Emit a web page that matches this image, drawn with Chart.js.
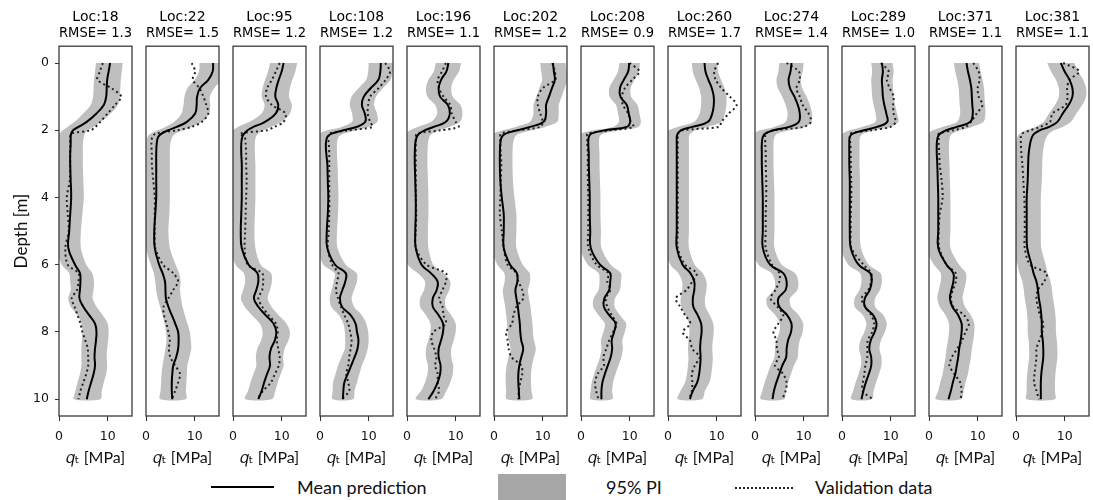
<!DOCTYPE html>
<html>
<head>
<meta charset="utf-8">
<script src="https://cdn.jsdelivr.net/npm/chart.js@4.4.1/dist/chart.umd.min.js"></script>
<style>
  html, body { margin: 0; padding: 0; background: #fff; overflow: hidden; }
  #wrap { position: relative; width: 1093px; height: 500px; }
  #wrap canvas { position: absolute; top: 0; }
  .lg { position: absolute; font-family: Lato, 'Open Sans', sans-serif; font-size: 18px; color: #111; line-height: 20px; }
</style>
</head>
<body>
<div id="wrap">
  <div style="position:absolute;left:211px;top:486px;width:63px;height:2px;background:#000"></div>
  <div class="lg" style="left:297px;top:477px">Mean prediction</div>
  <div style="position:absolute;left:498px;top:474px;width:68px;height:26px;background:#a6a6a6"></div>
  <div class="lg" style="left:606px;top:477px">95% PI</div>
  <div style="position:absolute;left:735px;top:487px;width:58px;height:0;border-top:2px dotted #222"></div>
  <div class="lg" style="left:815px;top:477px">Validation data</div>
</div>
<script>
// depth grid (m), shared by every profile
var depths = [0,0.25,0.5,0.75,1,1.25,1.5,1.75,1.9,2,2.1,2.2,2.4,2.7,3,3.5,4,4.5,5,5.5,6,
              6.25,6.5,6.75,7,7.25,7.5,7.75,8,8.25,8.5,8.75,9,9.25,9.5,9.75,10];

var locs = ['Loc:18','Loc:22','Loc:95','Loc:108','Loc:196','Loc:202','Loc:208','Loc:260','Loc:274','Loc:289','Loc:371','Loc:381'];
var rmse = ['RMSE= 1.3','RMSE= 1.5','RMSE= 1.2','RMSE= 1.2','RMSE= 1.1','RMSE= 1.2','RMSE= 0.9','RMSE= 1.7','RMSE= 1.4','RMSE= 1.0','RMSE= 1.1','RMSE= 1.1'];

// qt [MPa]: mean prediction, 95% PI bounds, validation data
var mean18 = [10.5,10.2,9.9,9.8,9.7,9.2,7.7,5.7,4.0,2.9,2.5,2.4,2.4,2.3,2.3,2.4,2.5,2.3,2.1,1.9,3.3,4.3,4.4,4.3,4.2,5.0,6.2,7.4,7.7,7.6,7.4,7.3,7.4,7.1,6.6,6.1,5.7];
var lo18 = [7.6,7.4,7.2,7.1,7.0,6.5,5.0,3.2,1.8,0.8,0.1,-0.3,-0.3,-0.3,-0.3,-0.3,-0.3,-0.3,-0.4,-0.5,0.6,2.1,2.3,2.4,1.9,2.4,3.8,4.6,4.8,4.7,4.6,4.6,4.6,4.3,3.8,3.4,3.1];
var hi18 = [13.1,12.9,12.7,12.6,12.5,12.1,10.6,8.6,7.1,5.9,5.3,5.1,4.9,4.9,4.9,5.0,5.1,4.8,4.5,4.5,5.6,6.8,7.2,7.1,6.9,7.7,9.0,10.0,10.2,10.1,9.9,9.8,9.9,9.7,9.2,8.8,8.5];
var val18 = [9.0,8.4,7.9,10.8,12.8,11.5,10.0,8.5,7.5,6.5,2.5,2.3,2.3,2.3,2.3,2.2,1.6,1.8,2.0,1.3,1.8,4.0,4.0,3.7,2.6,3.2,3.8,4.4,4.8,5.4,5.9,6.0,6.0,5.6,5.0,4.4,4.0];

var mean22 = [13.8,13.7,12.8,11.1,10.5,10.4,10.1,8.4,6.3,4.6,3.2,2.5,2.2,2.1,2.1,2.1,2.1,1.9,1.7,1.8,2.7,3.4,3.9,4.0,4.1,4.6,5.3,6.0,6.6,6.7,6.6,6.2,5.6,5.4,5.3,5.3,5.4];
var lo22 = [11.0,10.9,10.0,8.5,7.9,7.7,7.3,5.8,4.0,2.4,1.0,0.3,0.1,0.1,0.1,0.1,0.1,0.0,-0.1,0.0,1.0,1.6,1.9,2.1,2.4,2.9,3.4,3.8,4.1,4.2,4.0,3.7,3.4,3.2,3.1,3.0,2.9];
var hi22 = [16.5,16.4,15.5,14.0,13.1,13.2,13.0,11.5,9.4,7.6,6.1,5.4,5.0,4.9,4.9,4.9,4.9,4.8,4.6,4.9,6.1,6.8,7.1,7.0,7.2,7.5,8.0,8.5,9.0,9.2,9.3,8.9,8.5,8.4,8.3,8.2,8.2];
var val22 = [9.4,10.1,9.6,11.0,11.8,12.4,12.8,11.5,9.4,6.5,2.0,1.3,1.1,1.2,1.2,1.5,1.8,1.8,1.8,1.9,3.5,5.6,6.6,5.6,4.6,3.6,3.7,4.2,4.6,4.9,4.7,5.0,6.0,7.0,6.6,6.0,5.3];

var mean95 = [10.4,10.0,9.4,8.9,8.7,9.3,8.8,6.6,4.2,3.0,2.3,1.9,1.7,1.7,1.8,1.8,1.8,1.7,1.6,1.8,3.2,5.0,5.2,4.8,4.3,5.2,6.7,8.3,8.9,8.6,7.8,7.5,7.6,7.0,6.4,5.9,5.2];
var lo95 = [7.6,7.2,6.6,6.1,5.9,6.5,5.9,3.4,1.0,0.0,-0.2,-0.3,-0.3,-0.3,-0.2,-0.2,-0.2,-0.3,-0.4,-0.3,0.5,2.2,2.5,2.1,1.6,2.4,3.9,5.5,6.1,5.8,5.0,4.7,4.8,4.2,3.6,3.1,2.5];
var hi95 = [13.2,12.8,12.2,11.7,11.5,12.1,11.7,10.0,7.8,6.2,5.2,4.7,4.5,4.5,4.6,4.6,4.6,4.5,4.4,4.6,5.7,7.8,8.0,7.6,7.1,7.9,9.4,11.0,11.7,11.4,10.6,10.3,10.4,9.8,9.2,8.7,8.0];
var val95 = [9.6,8.8,8.0,7.0,6.8,8.0,10.8,10.4,8.5,7.0,1.4,2.4,2.6,2.7,2.7,2.8,2.7,2.6,2.5,2.4,3.0,6.0,6.2,6.0,5.2,6.0,7.3,8.8,9.2,9.0,9.3,9.6,9.4,8.6,7.8,6.2,5.0];

var mean108 = [12.5,12.4,12.0,10.4,9.0,8.6,9.2,9.3,7.5,4.8,2.4,1.5,1.2,1.3,1.5,1.6,1.7,1.6,1.4,1.5,3.1,5.3,5.2,4.6,4.1,4.5,6.3,7.3,7.6,7.9,7.7,7.1,6.4,5.7,5.0,4.8,4.7];
var lo108 = [10.0,9.9,9.5,7.9,6.5,6.1,6.6,6.6,4.5,1.5,-0.2,-0.6,-0.8,-0.7,-0.5,-0.4,-0.3,-0.4,-0.6,-0.5,0.7,3.0,2.8,2.4,2.0,2.3,3.9,4.8,5.1,5.2,5.1,4.4,3.7,3.2,2.7,2.6,2.6];
var hi108 = [15.0,14.9,14.5,12.9,11.5,11.1,11.7,11.8,10.0,7.5,5.0,3.8,3.5,3.5,3.6,3.7,3.8,3.7,3.5,3.6,5.3,7.5,7.6,7.0,6.5,7.0,8.6,9.5,9.9,10.0,9.8,9.3,8.6,8.1,7.6,7.1,6.8];
var val108 = [13.4,14.4,13.5,12.0,10.3,9.9,9.8,10.3,10.8,6.0,1.8,1.7,1.8,1.9,1.9,1.9,1.9,1.9,1.8,1.6,2.5,3.8,3.5,3.3,3.7,4.3,5.0,5.8,6.2,6.5,6.3,6.0,5.8,5.4,5.8,6.0,4.5];

var mean196 = [8.5,8.1,7.0,6.5,6.8,8.4,8.8,8.0,5.5,3.7,2.5,2.0,1.7,1.6,1.6,1.7,1.8,1.8,1.7,1.8,3.0,4.9,6.3,6.1,5.3,5.3,6.5,7.4,7.4,7.0,6.5,6.5,6.9,6.8,6.3,5.5,4.4];
var lo196 = [5.9,5.5,4.4,3.9,4.2,5.8,6.2,5.0,2.2,0.6,-0.3,-0.7,-0.9,-1,-1,-0.9,-0.8,-0.8,-0.9,-0.8,0.2,2.2,3.7,3.5,2.7,2.7,3.9,4.8,4.8,4.4,3.9,3.9,4.3,4.2,3.7,2.9,1.8];
var hi196 = [11.1,10.7,9.6,9.1,9.4,11.0,11.4,10.9,8.7,6.6,5.2,4.6,4.3,4.2,4.2,4.3,4.4,4.4,4.3,4.4,5.4,7.5,8.9,8.7,7.9,7.9,9.1,10.0,10.0,9.6,9.1,9.1,9.5,9.4,8.9,8.1,7.0];
var val196 = [8.0,7.2,6.3,6.6,7.5,8.9,9.2,10.0,10.6,7.0,2.0,1.8,1.8,1.8,1.8,1.8,1.8,1.9,1.8,1.8,4.0,8.0,8.0,7.3,6.6,7.3,7.5,8.0,5.4,5.0,5.6,6.0,5.8,6.3,6.3,6.6,5.8];

var mean202 = [12.1,12.3,12.5,11.9,11.3,10.7,10.7,10.2,7.4,4.8,2.4,1.6,1.3,1.2,1.2,1.3,1.6,2.0,2.0,2.0,3.3,4.7,4.8,4.4,4.6,4.9,5.1,5.3,5.4,5.6,6.0,5.6,5.2,5.0,5.0,5.1,5.2];
var lo202 = [9.5,9.7,9.9,9.3,8.7,8.1,8.1,7.4,4.5,1.8,-0.1,-0.9,-1.2,-1.3,-1.3,-1.2,-0.9,-0.5,-0.5,-0.5,0.7,2.1,2.2,1.8,2.0,2.3,2.5,2.7,2.8,3.0,3.4,3.0,2.6,2.4,2.4,2.5,2.6];
var hi202 = [14.7,14.9,15.1,14.5,13.9,13.3,13.3,13.0,10.5,7.8,5.2,4.3,3.9,3.8,3.8,3.9,4.2,4.6,4.6,4.6,5.9,7.3,7.4,7.0,7.2,7.5,7.7,7.9,8.0,8.2,8.6,8.2,7.8,7.6,7.6,7.7,7.8];
var val202 = [12.0,12.5,12.6,10.0,9.0,9.0,9.5,10.0,9.5,5.0,1.4,1.3,1.3,1.4,1.5,1.4,1.3,1.2,1.6,2.0,2.8,4.6,5.0,5.8,6.0,4.6,4.0,3.7,2.5,2.8,3.0,3.6,5.6,5.8,5.4,5.1,5.0];

var mean208 = [9.9,9.7,8.8,8.0,8.1,9.4,9.8,10.1,9.4,5.0,2.1,1.6,1.5,1.6,1.6,1.7,1.8,1.8,1.9,2.0,3.9,6.0,6.0,5.8,4.8,4.7,5.8,7.1,6.8,6.3,6.4,6.1,5.5,4.9,4.4,4.2,4.2];
var lo208 = [7.9,7.6,6.7,5.8,5.9,7.2,7.6,7.8,6.6,2.4,0.0,-0.6,-0.7,-0.6,-0.6,-0.5,-0.4,-0.4,-0.3,-0.2,1.4,3.6,3.8,3.6,2.6,2.5,3.6,4.9,4.6,4.1,4.2,3.9,3.3,2.7,2.2,2.0,2.0];
var hi208 = [12.1,11.9,11.0,10.2,10.3,11.6,12.0,12.3,11.8,8.0,4.6,3.8,3.7,3.8,3.8,3.9,4.0,4.0,4.1,4.2,6.1,8.2,8.2,8.0,7.0,6.9,8.0,9.3,9.0,8.5,8.6,8.3,7.7,7.1,6.6,6.4,6.4];
var val208 = [10.0,12.0,10.5,9.0,8.4,8.6,9.7,10.2,10.8,6.0,1.3,1.3,1.3,1.4,1.4,1.4,1.5,1.5,1.5,1.5,3.2,5.6,5.4,6.0,5.1,5.4,6.3,7.3,6.6,5.8,5.2,4.6,4.7,3.4,2.9,3.1,3.6];

var mean260 = [7.5,7.7,8.3,9.0,9.4,9.4,9.1,8.2,5.0,2.7,2.0,1.8,1.8,1.8,1.8,1.8,1.8,1.8,1.8,1.8,3.0,4.6,5.4,5.4,5.1,5.2,6.1,6.8,6.9,6.7,6.6,6.7,6.6,6.4,6.0,5.1,4.5];
var lo260 = [4.9,5.1,5.7,6.4,6.8,6.8,6.5,5.4,2.0,0.1,-0.5,-0.7,-0.7,-0.7,-0.7,-0.7,-0.7,-0.7,-0.7,-0.7,0.5,2.1,2.9,2.9,2.6,2.7,3.6,4.3,4.4,4.2,4.1,4.2,4.1,3.9,3.5,2.6,2.0];
var hi260 = [10.1,10.3,10.9,11.6,12.0,12.0,11.7,11.0,8.2,5.6,4.6,4.3,4.3,4.3,4.3,4.3,4.3,4.3,4.3,4.3,5.5,7.1,7.9,7.9,7.6,7.7,8.6,9.3,9.4,9.2,9.1,9.2,9.1,8.9,8.5,7.6,7.0];
var val260 = [10.3,9.5,9.8,11.0,12.7,14.1,12.5,11.0,10.5,3.0,2.0,2.0,2.0,2.0,2.0,2.0,2.0,2.0,2.0,2.0,3.5,5.9,5.0,3.8,1.6,2.5,3.5,4.6,3.0,4.5,5.0,6.5,5.5,4.9,5.0,4.9,4.3];

var mean274 = [7.5,7.3,6.9,7.2,8.1,8.8,9.2,9.0,7.0,3.8,2.1,1.6,1.4,1.4,1.4,1.5,1.6,1.6,1.6,1.6,3.1,5.8,6.5,6.3,4.8,5.0,6.6,7.5,7.4,6.8,6.5,6.4,5.6,5.0,4.4,3.9,3.6];
var lo274 = [5.0,4.8,4.4,4.7,5.6,6.3,6.7,6.3,4.0,1.0,-0.2,-0.8,-1.0,-1.0,-1.0,-0.9,-0.8,-0.8,-0.8,-0.8,0.7,3.4,4.1,3.9,2.4,2.6,4.2,5.1,5.0,4.4,4.1,4.0,3.2,2.6,2.0,1.5,1.2];
var hi274 = [10.0,9.8,9.4,9.7,10.6,11.3,11.7,11.6,10.3,7.0,4.6,4.0,3.8,3.8,3.8,3.9,4.0,4.0,4.0,4.0,5.5,8.2,8.9,8.7,7.2,7.4,9.0,9.9,9.8,9.2,8.9,8.8,8.0,7.4,6.8,6.3,6.0];
var val274 = [6.5,9.0,9.2,8.5,9.2,9.8,11.0,11.5,10.0,4.0,2.0,2.1,2.1,2.2,2.2,2.3,2.3,2.2,2.2,2.2,3.5,5.0,5.0,4.2,3.2,4.6,5.8,4.8,3.8,4.4,4.5,4.9,4.1,5.8,6.5,6.3,5.6];

var mean289 = [8.2,8.4,8.2,8.3,8.4,8.7,9.1,9.3,7.2,4.5,2.2,1.6,1.5,1.5,1.5,1.6,1.6,1.6,1.6,1.8,3.4,5.8,6.1,5.7,4.7,4.7,6.4,7.1,6.7,5.9,5.6,6.0,6.0,5.5,4.9,4.4,4.0];
var lo289 = [6.0,6.2,6.0,6.1,6.2,6.5,6.9,6.9,4.2,1.5,0.1,-0.5,-0.6,-0.6,-0.6,-0.5,-0.5,-0.5,-0.5,-0.3,1.3,3.7,4.0,3.6,2.6,2.6,4.3,5.0,4.6,3.8,3.5,3.9,3.9,3.4,2.8,2.3,1.9];
var hi289 = [10.4,10.6,10.4,10.5,10.6,10.9,11.3,11.6,10.0,6.8,4.4,3.7,3.6,3.6,3.6,3.7,3.7,3.7,3.7,3.9,5.5,7.9,8.2,7.8,6.8,6.8,8.5,9.2,8.8,8.0,7.7,8.1,8.1,7.6,7.0,6.5,6.1];
var val289 = [8.0,9.6,9.2,9.8,10.6,10.5,10.6,11.0,10.0,6.0,1.6,1.6,1.7,1.8,1.8,1.9,1.9,1.8,1.8,1.9,4.4,6.0,6.0,5.4,4.0,4.8,6.0,6.6,6.2,5.3,5.2,5.2,4.8,4.6,4.3,4.2,6.3];

var mean371 = [7.7,8.0,8.4,8.7,8.8,8.9,9.0,8.5,5.7,3.6,2.3,1.8,1.6,1.6,1.7,1.8,1.9,1.9,1.9,1.9,3.6,5.0,5.0,4.6,4.3,4.8,6.0,6.7,6.7,6.5,6.2,6.0,5.7,5.4,4.9,4.5,4.0];
var lo371 = [5.1,5.4,5.8,6.1,6.2,6.3,6.4,5.8,2.8,0.8,-0.2,-0.7,-0.9,-0.9,-0.8,-0.7,-0.6,-0.6,-0.6,-0.6,1.0,2.4,2.4,2.0,1.7,2.2,3.4,4.1,4.1,3.9,3.6,3.4,3.1,2.8,2.3,1.9,1.4];
var hi371 = [10.3,10.6,11.0,11.3,11.4,11.5,11.6,11.2,8.8,6.4,4.8,4.3,4.1,4.1,4.2,4.3,4.4,4.4,4.4,4.4,6.2,7.6,7.6,7.2,6.9,7.4,8.6,9.3,9.3,9.1,8.8,8.6,8.3,8.0,7.5,7.1,6.6];
var val371 = [9.1,10.2,10.4,10.0,10.2,11.0,9.8,8.6,7.6,5.0,2.0,2.0,2.0,2.1,2.2,2.6,2.8,2.2,2.0,2.1,3.6,5.5,5.5,4.9,4.5,5.0,7.2,8.2,7.5,6.8,5.8,4.7,4.2,5.2,6.4,6.7,6.5];

var mean381 = [9.2,10.0,11.0,11.6,11.6,10.8,9.6,8.5,6.8,4.9,3.8,3.3,2.9,2.6,2.5,2.4,2.2,2.2,2.2,2.3,3.2,3.6,4.2,4.5,4.7,5.0,5.2,5.3,5.3,5.5,5.6,5.6,5.4,5.2,5.1,5.1,5.1];
var lo381 = [6.4,7.2,8.2,8.8,8.8,8.0,6.8,5.7,4.0,2.0,0.8,0.3,0.0,-0.3,-0.4,-0.5,-0.7,-0.7,-0.7,-0.6,0.3,0.7,1.3,1.6,1.8,2.1,2.3,2.4,2.4,2.6,2.7,2.7,2.5,2.3,2.2,2.2,2.2];
var hi381 = [12.0,12.8,13.8,14.4,14.4,13.6,12.4,11.3,9.6,7.8,6.8,6.3,5.8,5.5,5.4,5.3,5.1,5.1,5.1,5.2,6.1,6.5,7.1,7.4,7.6,7.9,8.1,8.2,8.2,8.4,8.5,8.5,8.3,8.1,8.0,8.0,8.0];
var val381 = [9.7,13.0,11.0,10.5,10.6,10.2,7.5,7.0,5.0,3.0,1.2,1.0,1.0,1.1,1.3,1.5,1.7,1.8,1.8,1.8,2.9,6.3,5.8,4.5,4.2,4.5,4.9,5.6,5.4,4.8,4.2,4.2,4.0,3.8,3.7,4.2,4.7];

var means = [mean18,mean22,mean95,mean108,mean196,mean202,mean208,mean260,mean274,mean289,mean371,mean381];
var lows  = [lo18,lo22,lo95,lo108,lo196,lo202,lo208,lo260,lo274,lo289,lo371,lo381];
var highs = [hi18,hi22,hi95,hi108,hi196,hi202,hi208,hi260,hi274,hi289,hi371,hi381];
var vals  = [val18,val22,val95,val108,val196,val202,val208,val260,val274,val289,val371,val381];

Chart.defaults.font.family = "'DejaVu Sans', sans-serif";
Chart.defaults.color = '#111';

// box around each plot area (matplotlib spines)
var frame = {
    id: 'frame',
    afterDatasetsDraw: function(chart) {
        var a = chart.chartArea, ctx = chart.ctx;
        ctx.save();
        ctx.strokeStyle = '#3a3a3a';
        ctx.lineWidth = 1.3;
        ctx.strokeRect(a.left, a.top, a.right - a.left, a.bottom - a.top);
        ctx.restore();
    }
};

function profile(arr) {
    var pts = [];
    for (var j = 0; j < arr.length; j++) pts.push({x: arr[j], y: depths[j]});
    return pts;
}

function band(lo, hi) {
    var pts = profile(lo);
    var up = profile(hi).reverse();
    return pts.concat(up);
}

var wrap = document.getElementById('wrap');
for (var i = 0; i < 12; i++) {
    var cv = document.createElement('canvas');
    cv.width = 165;
    cv.height = 472;
    cv.style.left = (87 * i) + 'px';
    wrap.appendChild(cv);
    var first = (i === 0);

    new Chart(cv, {
        type: 'scatter',
        data: {
            datasets: [{
                label: 'Mean prediction',
                data: profile(means[i]),
                showLine: true,
                borderColor: '#000',
                borderWidth: 2,
                pointRadius: 0,
                tension: 0.4
            }, {
                label: 'Validation data',
                data: profile(vals[i]),
                showLine: true,
                borderColor: '#222',
                borderWidth: 2,
                borderDash: [2, 3],
                pointRadius: 0,
                tension: 0.3
            }, {
                label: '95% PI',
                data: band(lows[i], highs[i]),
                showLine: true,
                borderWidth: 0,
                borderColor: 'rgba(0,0,0,0)',
                backgroundColor: '#bfbfbf',
                fill: 'shape',
                pointRadius: 0,
                tension: 0.3
            }]
        },
        options: {
            responsive: false,
            animation: false,
            events: [],
            layout: { padding: { left: 0, right: 33, top: 0, bottom: 0 } },
            plugins: {
                legend: { display: false },
                tooltip: { enabled: false },
                title: {
                    display: true,
                    text: [locs[i], rmse[i]],
                    fullSize: false,
                    color: '#000',
                    font: { size: 14, weight: 'normal', lineHeight: 1.15 },
                    padding: { top: 9, bottom: 5 }
                }
            },
            scales: {
                x: {
                    type: 'linear',
                    min: 0,
                    max: 15,
                    afterBuildTicks: function(s) { s.ticks = [{value: 0}, {value: 10}]; },
                    afterFit: function(s) { s.height = 56; },
                    grid: { display: true, drawOnChartArea: false, tickLength: 5, color: '#333' },
                    border: { display: false },
                    ticks: { font: { size: 12.5 }, color: '#111', padding: 8, maxRotation: 0 },
                    title: {
                        display: true,
                        text: '\uD835\uDC5E\u209C [MPa]',
                        color: '#111',
                        font: { family: "Lato, 'DejaVu Sans', sans-serif", size: 16 },
                        padding: { top: 0, bottom: 5 }
                    }
                },
                y: {
                    type: 'linear',
                    reverse: true,
                    min: -0.5,
                    max: 10.5,
                    afterBuildTicks: function(s) { s.ticks = [0, 2, 4, 6, 8, 10].map(function(v) { return {value: v}; }); },
                    afterFit: function(s) { s.width = 59; },
                    grid: { display: first, drawOnChartArea: false, tickLength: 4, color: '#333' },
                    border: { display: false },
                    ticks: { display: first, font: { size: 12.5 }, color: '#111', padding: 6 },
                    title: {
                        display: first,
                        text: 'Depth [m]',
                        color: '#111',
                        font: { family: "Lato, sans-serif", size: 17 },
                        padding: { top: 11, bottom: 0 }
                    }
                }
            }
        },
        plugins: [frame]
    });
}
</script>
</body>
</html>
